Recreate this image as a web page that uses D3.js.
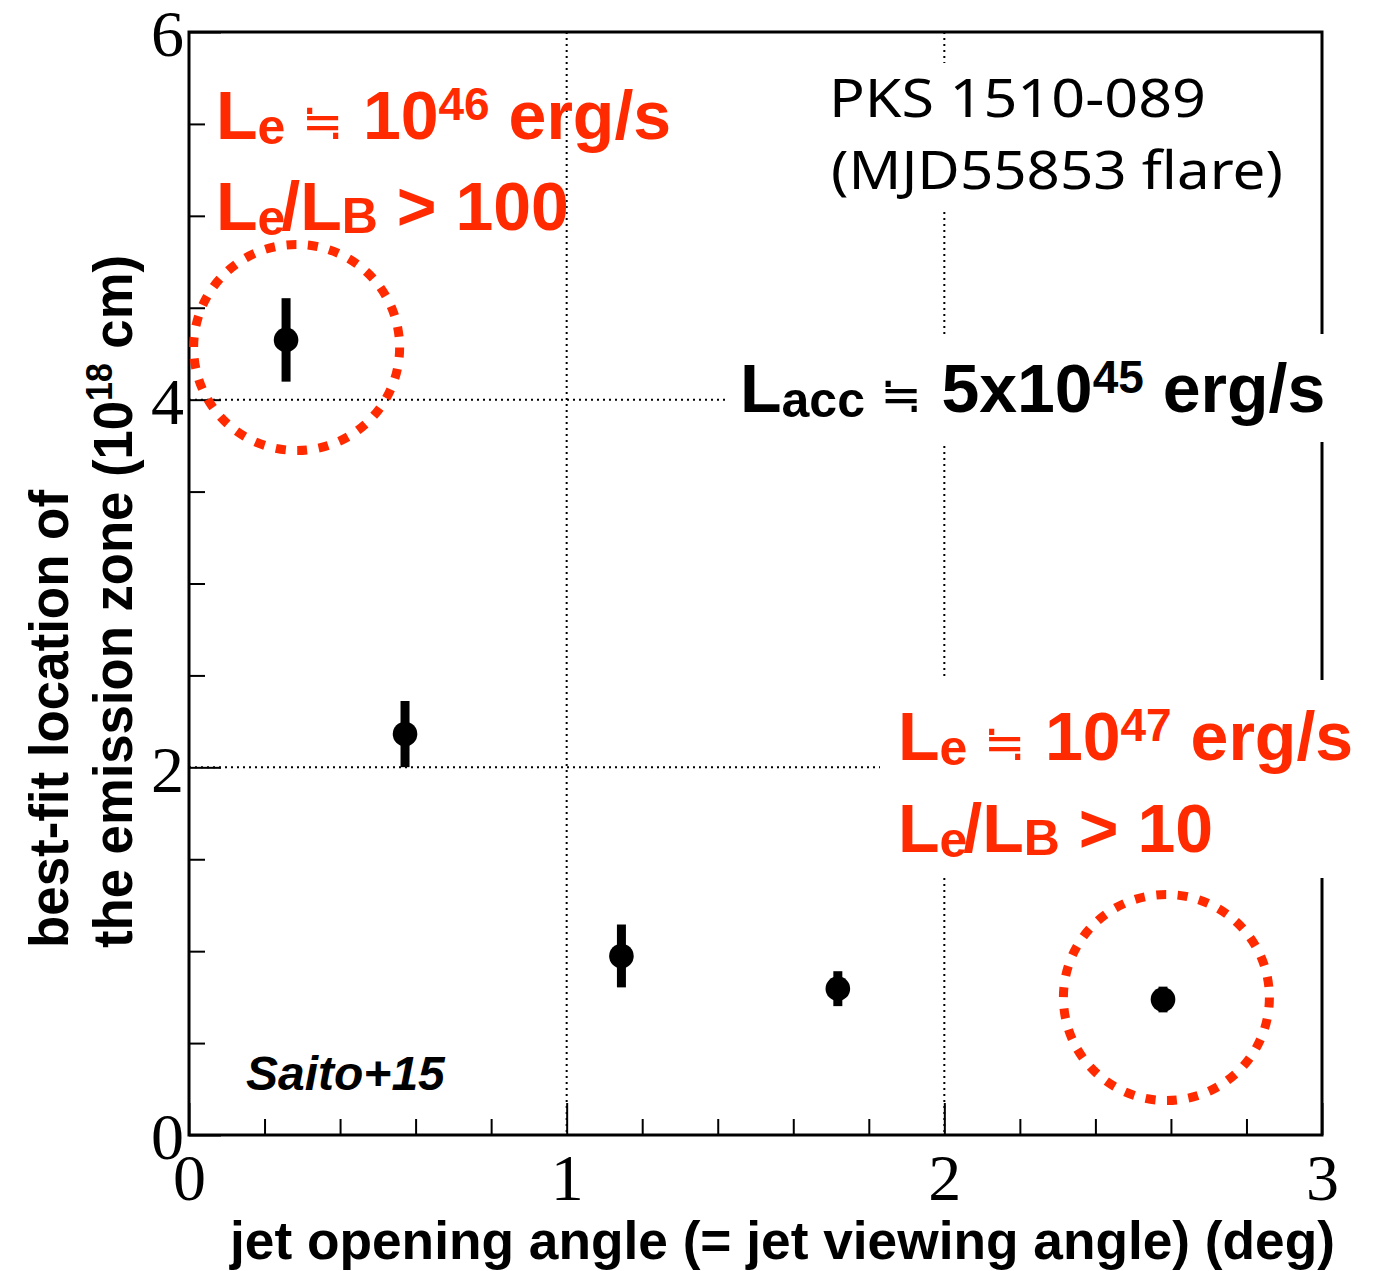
<!DOCTYPE html>
<html><head><meta charset="utf-8">
<script src="https://cdn.jsdelivr.net/npm/d3@7"></script>
<style>body{margin:0;background:#fff} svg{display:block} text{white-space:pre}</style>
</head><body>
<svg id="chart" width="1378" height="1271"></svg>
<script>
// ---- data ----
const angles = [0.257, 0.572, 1.145, 1.718, 2.579];
const locations = [4.325, 2.181, 0.974, 0.796, 0.737];
const errors = [0.227, 0.18, 0.171, 0.095, 0.07];

const xMajorTicks = [0, 1, 2, 3];
const xTickLabels = ["0", "1", "2", "3"];
const xMinorTicks = [0.2, 0.4, 0.6, 0.8, 1.2, 1.4, 1.6, 1.8, 2.2, 2.4, 2.6, 2.8];
const yMajorTicks = [0, 2, 4, 6];
const yTickLabels = ["0", "2", "4", "6"];
const yMinorTicks = [0.5, 1, 1.5, 2.5, 3, 3.5, 4.5, 5, 5.5];
const xGrid = [1, 2];
const yGrid = [2, 4];

// highlighted points (data coords)
const highlightX = [0.285, 2.588];
const highlightY = [4.284, 0.748];

const RED = "#ff2a00";
const svg = d3.select("#chart");
const W = 1378, H = 1271;
const m = {left: 189, right: 1322, top: 32, bottom: 1135};
const x = d3.scaleLinear().domain([0, 3]).range([m.left, m.right]);
const y = d3.scaleLinear().domain([0, 6]).range([m.bottom, m.top]);

svg.append("rect").attr("width", W).attr("height", H).attr("fill", "#fff");

// gridlines
const grid = svg.append("g").attr("stroke", "#000").attr("stroke-width", 2).attr("stroke-dasharray", "2 4");
grid.selectAll(".gx").data(xGrid).join("line")
  .attr("x1", d => x(d)).attr("x2", d => x(d)).attr("y1", y(6)).attr("y2", y(0));
grid.selectAll(".gy").data(yGrid).join("line")
  .attr("x1", x(0)).attr("x2", x(3)).attr("y1", d => y(d)).attr("y2", d => y(d));

// axes ticks (inside)
function styleAxis(g) {
  g.select(".domain").remove();
  g.selectAll(".tick line").attr("stroke", "#000").attr("stroke-width", 2);
}
svg.append("g").attr("transform", `translate(0,${m.bottom})`)
  .call(d3.axisBottom(x).tickValues(xMinorTicks).tickSize(-16).tickFormat(""))
  .call(styleAxis);
const xa = svg.append("g").attr("transform", `translate(0,${m.bottom})`)
  .call(d3.axisBottom(x).tickValues(xMajorTicks).tickSize(-32).tickPadding(18)
        .tickFormat((d, i) => xTickLabels[i]))
  .call(styleAxis);
xa.selectAll("text").attr("font-family", "Liberation Serif, Times New Roman, serif")
  .attr("font-size", 66).attr("fill", "#000").attr("dy", "0.71em");

svg.append("g").attr("transform", `translate(${m.left},0)`)
  .call(d3.axisLeft(y).tickValues(yMinorTicks).tickSize(-16).tickFormat(""))
  .call(styleAxis);
const ya = svg.append("g").attr("transform", `translate(${m.left},0)`)
  .call(d3.axisLeft(y).tickValues(yMajorTicks).tickSize(-32).tickPadding(5)
        .tickFormat((d, i) => yTickLabels[i]))
  .call(styleAxis);
ya.selectAll("text").attr("font-family", "Liberation Serif, Times New Roman, serif")
  .attr("font-size", 66).attr("fill", "#000").attr("dy", "0.36em");

// frame
svg.append("rect").attr("x", m.left).attr("y", m.top)
  .attr("width", m.right - m.left).attr("height", m.bottom - m.top)
  .attr("fill", "none").attr("stroke", "#000").attr("stroke-width", 3);

// white label boxes
const boxes = [
  {x0: 820, x1: 1300, y0: 63, y1: 212},
  {x0: 725, x1: 1340, y0: 334, y1: 442},
  {x0: 880, x1: 1378, y0: 680, y1: 878}
];
svg.selectAll(".box").data(boxes).join("rect")
  .attr("x", d => d.x0).attr("y", d => d.y0)
  .attr("width", d => d.x1 - d.x0).attr("height", d => d.y1 - d.y0).attr("fill", "#fff");

// rich text helper
function rich(parent, px, py, parts, base) {
  const t = parent.append("text").attr("x", px).attr("y", py)
    .attr("font-family", base.family).attr("font-weight", base.weight)
    .attr("font-size", base.size).attr("fill", base.fill);
  let cur = 0;
  parts.forEach(p => {
    const off = p.shift || 0;
    const ts = t.append("tspan").text(p.t).attr("dy", off - cur);
    cur = off;
    if (p.size) ts.attr("font-size", p.size);
    if (p.family) ts.attr("font-family", p.family);
    if (p.weight) ts.attr("font-weight", p.weight);
    if (p.dx) ts.attr("dx", p.dx);
  });
  return t;
}
const SANS = "Liberation Sans, Arial, Helvetica, sans-serif";
const boldRed = {family: SANS, weight: "bold", size: 68, fill: RED};
const boldBlack = {family: SANS, weight: "bold", size: 68, fill: "#000"};
const approx = {t: "≒", size: 50, family: "DejaVu Sans", weight: "normal"};

rich(svg, 216, 139, [{t: "L"}, {t: "e", size: 50, shift: 5}, {t: " ", size: 60}, approx, {t: " 10"},
  {t: "46", size: 46, shift: -19}, {t: " erg/s"}], boldRed);
rich(svg, 216, 230, [{t: "L"}, {t: "e", size: 50, shift: 5}, {t: "/", dx: -4}, {t: "L"},
  {t: "B", size: 50, shift: 3}, {t: " > 100"}], boldRed);

rich(svg, 898, 760, [{t: "L"}, {t: "e", size: 50, shift: 5}, {t: " ", size: 60}, approx, {t: " 10"},
  {t: "47", size: 46, shift: -19}, {t: " erg/s"}], boldRed);
rich(svg, 898, 852, [{t: "L"}, {t: "e", size: 50, shift: 5}, {t: "/", dx: -4}, {t: "L"},
  {t: "B", size: 50, shift: 3}, {t: " > 10"}], boldRed);

rich(svg, 740, 412, [{t: "L"}, {t: "acc", size: 50, shift: 5}, {t: " ", size: 56}, approx, {t: " 5x10"},
  {t: "45", size: 46, shift: -19}, {t: " erg/s"}], boldBlack);

// source label
svg.append("text").attr("x", 829).attr("y", 117).attr("font-family", "Noto Sans, sans-serif")
  .attr("font-size", 52).attr("fill", "#000").attr("textLength", 377).attr("lengthAdjust", "spacingAndGlyphs")
  .text("PKS 1510-089");
svg.append("text").attr("x", 831).attr("y", 189).attr("font-family", "Noto Sans, sans-serif")
  .attr("font-size", 52).attr("fill", "#000").attr("textLength", 452).attr("lengthAdjust", "spacingAndGlyphs")
  .text("(MJD55853 flare)");

// citation
svg.append("text").attr("x", 246).attr("y", 1090).attr("font-family", SANS)
  .attr("font-weight", "bold").attr("font-style", "italic").attr("font-size", 48).attr("fill", "#000")
  .text("Saito+15");

// axis titles
svg.append("text").attr("x", 230).attr("y", 1259).attr("font-family", SANS).attr("font-weight", "bold")
  .attr("font-size", 54).attr("fill", "#000").attr("textLength", 1105).attr("lengthAdjust", "spacingAndGlyphs")
  .text("jet opening angle (= jet viewing angle) (deg)");

const yt1 = svg.append("g").attr("transform", "translate(68,948) rotate(-90)");
yt1.append("text").attr("font-family", SANS).attr("font-weight", "bold").attr("font-size", 56)
  .attr("fill", "#000").attr("textLength", 458).attr("lengthAdjust", "spacingAndGlyphs")
  .text("best-fit location of");
const yt2 = svg.append("g").attr("transform", "translate(132,948) rotate(-90)");
rich(yt2, 0, 0, [{t: "the emission zone (10"}, {t: "18", size: 36, shift: -20}, {t: " cm)"}],
  {family: SANS, weight: "bold", size: 56, fill: "#000"})
  .attr("textLength", 693).attr("lengthAdjust", "spacingAndGlyphs");

// data: error bars + markers
const pts = angles.map((a, i) => ({a, v: locations[i], e: errors[i]}));
svg.selectAll(".err").data(pts).join("line")
  .attr("x1", d => x(d.a)).attr("x2", d => x(d.a))
  .attr("y1", d => y(d.v - d.e)).attr("y2", d => y(d.v + d.e))
  .attr("stroke", "#000").attr("stroke-width", 9);
svg.selectAll(".pt").data(pts).join("circle")
  .attr("cx", d => x(d.a)).attr("cy", d => y(d.v)).attr("r", 12.3).attr("fill", "#000");

// highlight circles
svg.selectAll(".hl").data(highlightX.map((h, i) => [h, highlightY[i]])).join("circle")
  .attr("cx", d => x(d[0])).attr("cy", d => y(d[1])).attr("r", 103)
  .attr("fill", "none").attr("stroke", RED).attr("stroke-width", 9)
  .attr("stroke-dasharray", "10 11.57");
</script>
</body></html>
